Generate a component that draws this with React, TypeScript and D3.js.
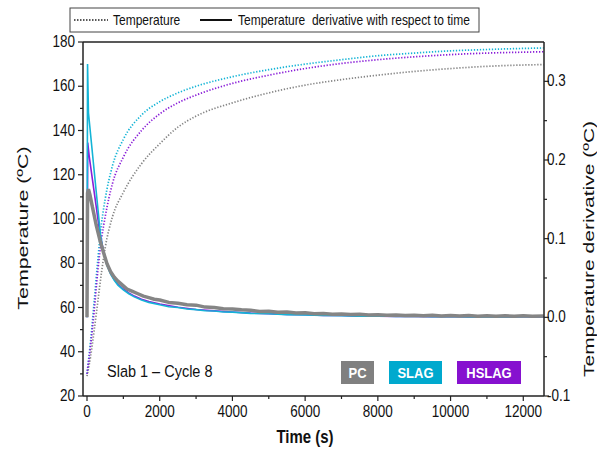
import React from "react";
import * as d3 from "d3";

const tempTimes = [0, 100, 200, 300, 400, 500, 700, 1000, 1500, 2000, 2500, 3000, 4000, 5000, 6000, 7000, 8000, 9000, 10000, 11000, 12000, 12560];
const tempPC = [29, 38, 50, 63, 76, 87, 101, 112, 125, 134, 141.5, 146.5, 152.5, 157, 160.5, 163, 165, 166.7, 168, 169, 169.6, 169.8];
const tempSLAG = [30, 45, 63, 82, 98, 109, 124, 136, 147, 153, 157, 160, 164.3, 167.5, 170, 172, 173.8, 175, 176, 176.6, 177.1, 177.3];
const tempHSLAG = [30, 43, 59, 77, 91, 101, 116, 128, 140, 147.5, 152.5, 156, 161.3, 165, 168, 170.3, 172, 173.3, 174.3, 175, 175.4, 175.6];

const derivPC: [number, number][] = [[0, 0], [15, 0.158], [40, 0.163], [80, 0.156], [150, 0.14], [250, 0.118], [350, 0.099], [450, 0.083], [550, 0.068], [650, 0.058], [750, 0.051], [850, 0.046], [1000, 0.040], [1100, 0.036], [1250, 0.033], [1400, 0.030], [1550, 0.027], [1700, 0.025], [1850, 0.023], [2000, 0.022], [2250, 0.019], [2500, 0.018], [2750, 0.016], [3000, 0.0155], [3250, 0.013], [3500, 0.0125], [3750, 0.011], [4000, 0.0105], [4250, 0.0095], [4500, 0.009], [4750, 0.0075], [5000, 0.0078], [5250, 0.0065], [5500, 0.0068], [5750, 0.0055], [6000, 0.0058], [6250, 0.0045], [6500, 0.005], [6750, 0.004], [7000, 0.0043], [7250, 0.0035], [7500, 0.0038], [7750, 0.003], [8000, 0.0034], [8250, 0.0026], [8500, 0.003], [8750, 0.0022], [9000, 0.0027], [9250, 0.002], [9500, 0.0025], [9750, 0.0018], [10000, 0.0024], [10250, 0.0017], [10500, 0.0022], [10750, 0.0015], [11000, 0.0021], [11250, 0.0014], [11500, 0.002], [11750, 0.0013], [12000, 0.0019], [12250, 0.0013], [12560, 0.0017]];
const derivSLAG: [number, number][] = [[0, 0], [15, 0.322], [40, 0.26], [370, 0.105], [450, 0.083], [550, 0.066], [650, 0.055], [750, 0.047], [850, 0.041], [1000, 0.035], [1150, 0.030], [1300, 0.026], [1500, 0.022], [1700, 0.019], [2000, 0.016], [2250, 0.0135], [2500, 0.0125], [2750, 0.0105], [3000, 0.0098], [3250, 0.0083], [3500, 0.008], [3750, 0.0068], [4000, 0.0066], [4500, 0.005], [5000, 0.0046], [5500, 0.0033], [6000, 0.0031], [6500, 0.0023], [7000, 0.0022], [7500, 0.0015], [8000, 0.0016], [8500, 0.001], [9000, 0.0013], [9500, 0.0008], [10000, 0.001], [10500, 0.0006], [11000, 0.0009], [11500, 0.0005], [12000, 0.0009], [12560, 0.0007]];
const derivHSLAG: [number, number][] = [[0, 0], [20, 0.222], [60, 0.205], [150, 0.175], [250, 0.142], [350, 0.108], [450, 0.085], [550, 0.068], [650, 0.056], [750, 0.048], [850, 0.042], [1000, 0.036], [1150, 0.031], [1300, 0.027], [1500, 0.023], [1700, 0.02], [2000, 0.017], [2500, 0.0128], [3000, 0.010], [3500, 0.0082], [4000, 0.0068], [4500, 0.0053], [5000, 0.0047], [5500, 0.0036], [6000, 0.0032], [6500, 0.0024], [7000, 0.0023], [7500, 0.0016], [8000, 0.0016], [8500, 0.0011], [9000, 0.0012], [9500, 0.0008], [10000, 0.001], [10500, 0.0006], [11000, 0.0008], [11500, 0.0005], [12000, 0.0007], [12560, 0.0006]];

const xMajor = [0, 2000, 4000, 6000, 8000, 10000, 12000];
const xMinor = [1000, 3000, 5000, 7000, 9000, 11000];
const yLMajor = [20, 40, 60, 80, 100, 120, 140, 160, 180];
const yLMinor = [30, 50, 70, 90, 110, 130, 150, 170];
const yRMajor = [-0.1, 0.0, 0.1, 0.2, 0.3];
const yRMinor = [-0.05, 0.05, 0.15, 0.25];

const seriesNames = ["PC", "SLAG", "HSLAG"];
const lineColors = ["#858585", "#14B4D6", "#8A1ED8"];
const boxColors = ["#808080", "#00A9CE", "#8611CF"];

const FONT = "Arial, 'Liberation Sans', sans-serif";
const VS = 1.18; // vertical stretch of the glyphs in the reference

function HText(props: { x: number; y: number; size: number; anchor?: string; weight?: string; fill?: string; children: React.ReactNode }) {
  const { x, y, size, anchor = "start", weight = "normal", fill = "#111", children } = props;
  return (
    <text transform={`translate(${x},${y}) scale(1,${VS})`} fontSize={size} textAnchor={anchor as any} fontWeight={weight} fill={fill} style={{ whiteSpace: "pre" }}>
      {children}
    </text>
  );
}

export default function App() {
  const W = 597, H = 450;
  const L = 83, R = 544, T = 42, B = 396;
  const x = d3.scaleLinear().domain([-110, 12570]).range([L, R]);
  const yL = d3.scaleLinear().domain([20, 180]).range([B, T]);
  const yR = d3.scaleLinear().domain([-0.1, 0.35]).range([B, T]);

  const tLine = d3.line<[number, number]>().x(d => x(d[0])).y(d => yL(d[1])).curve(d3.curveMonotoneX);
  const dLine = d3.line<[number, number]>().x(d => x(d[0])).y(d => yR(d[1]));

  const temps = [tempPC, tempSLAG, tempHSLAG].map(arr => arr.map((v, i) => [tempTimes[i], v] as [number, number]));
  const derivs = [derivPC, derivSLAG, derivHSLAG];

  const axisColor = "#222";
  const fmtR = (v: number) => v.toFixed(1);

  return (
    <svg width={W} height={H} style={{ position: "absolute", left: 0, top: 0, fontFamily: FONT }}>
      <defs>
        <clipPath id="plot"><rect x={L} y={T} width={R - L} height={B - T} /></clipPath>
      </defs>
      {/* top legend */}
      <rect x={70} y={8} width={409} height={24} fill="#fff" stroke="#444" strokeWidth={1} />
      <line x1={74} x2={108} y1={20} y2={20} stroke="#222" strokeWidth={1.6} strokeDasharray="1.5,1.5" />
      <HText x={113} y={25} size={12}>Temperature</HText>
      <line x1={200} x2={232} y1={20} y2={20} stroke="#111" strokeWidth={2} />
      <HText x={238} y={25} size={12}>Temperature  derivative with respect to time</HText>

      {/* data */}
      <g clipPath="url(#plot)">
        {temps.map((d, i) => (
          <path key={"t" + i} d={tLine(d) || ""} fill="none" stroke={lineColors[i]} strokeWidth={1.7} strokeDasharray="1.3,1.7" />
        ))}
        <path d={dLine(derivs[2]) || ""} fill="none" stroke={lineColors[2]} strokeWidth={1.6} />
        <path d={dLine(derivs[1]) || ""} fill="none" stroke={lineColors[1]} strokeWidth={1.6} />
        <path d={dLine(derivs[0]) || ""} fill="none" stroke={lineColors[0]} strokeWidth={3.5} strokeLinejoin="bevel" />
      </g>

      {/* frame */}
      <line x1={L} x2={R} y1={T} y2={T} stroke={axisColor} strokeWidth={1.5} />
      <line x1={L} x2={R} y1={B} y2={B} stroke={axisColor} strokeWidth={1.5} />
      <line x1={L} x2={L} y1={T} y2={B} stroke={axisColor} strokeWidth={1.5} />
      <line x1={R} x2={R} y1={T} y2={B} stroke={axisColor} strokeWidth={1.5} />

      {/* left axis */}
      {yLMajor.map(v => (
        <g key={"yl" + v}>
          <line x1={L - 5} x2={L} y1={yL(v)} y2={yL(v)} stroke={axisColor} strokeWidth={1.2} />
          <HText x={L - 8} y={yL(v) + 5} size={13.5} anchor="end">{v}</HText>
        </g>
      ))}
      {yLMinor.map(v => (
        <line key={"ylm" + v} x1={L - 3} x2={L} y1={yL(v)} y2={yL(v)} stroke={axisColor} strokeWidth={1.2} />
      ))}
      {/* right axis */}
      {yRMajor.map(v => (
        <g key={"yr" + v}>
          <line x1={R} x2={R + 5} y1={yR(v)} y2={yR(v)} stroke={axisColor} strokeWidth={1.2} />
          <HText x={R + 3} y={yR(v) + 5} size={13.5}>{fmtR(v)}</HText>
        </g>
      ))}
      {yRMinor.map(v => (
        <line key={"yrm" + v} x1={R} x2={R + 3} y1={yR(v)} y2={yR(v)} stroke={axisColor} strokeWidth={1.2} />
      ))}
      {/* bottom axis */}
      {xMajor.map(v => (
        <g key={"x" + v}>
          <line x1={x(v)} x2={x(v)} y1={B} y2={B + 5} stroke={axisColor} strokeWidth={1.2} />
          <HText x={x(v)} y={B + 21} size={13.5} anchor="middle">{v}</HText>
        </g>
      ))}
      {xMinor.map(v => (
        <line key={"xm" + v} x1={x(v)} x2={x(v)} y1={B} y2={B + 3} stroke={axisColor} strokeWidth={1.2} />
      ))}

      {/* axis titles */}
      <HText x={305} y={443} size={15} weight="bold" anchor="middle">Time (s)</HText>
      <text transform="translate(28,228) rotate(-90) scale(1.38,1)" fontSize={15.5} textAnchor="middle" fill="#111">Temperature (ºC)</text>
      <text transform="translate(594,249) rotate(-90) scale(1.4,1)" fontSize={15} textAnchor="middle" fill="#111">Temperature derivative (ºC)</text>

      {/* annotation */}
      <HText x={107} y={377} size={14.5}>Slab 1 – Cycle 8</HText>

      {/* series boxes */}
      {seriesNames.map((n, i) => {
        const bx = [341, 389, 457][i];
        const bw = [33, 53, 64][i];
        return (
          <g key={n}>
            <rect x={bx} y={361} width={bw} height={23} fill={boxColors[i]} />
            <HText x={bx + bw / 2} y={377.5} size={13} weight="bold" fill="#fff" anchor="middle">{n}</HText>
          </g>
        );
      })}
    </svg>
  );
}
